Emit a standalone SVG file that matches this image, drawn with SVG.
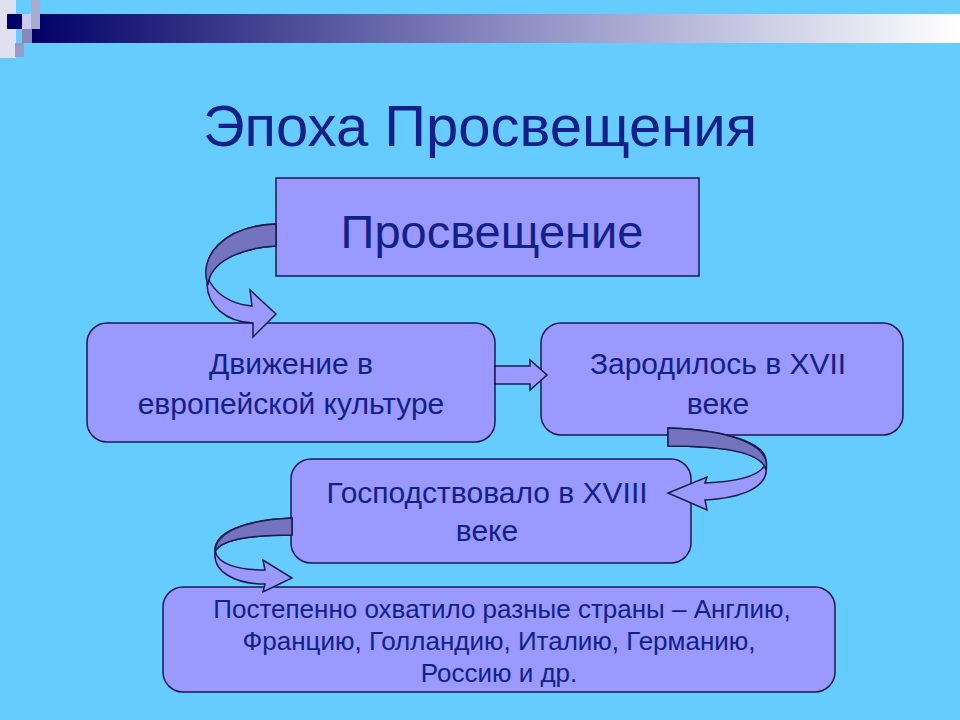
<svg xmlns="http://www.w3.org/2000/svg" width="960" height="720" viewBox="0 0 960 720">
<defs>
<linearGradient id="bar" x1="0" x2="1" y1="0" y2="0"><stop offset="0" stop-color="#000066"/><stop offset="0.5" stop-color="#8888c0"/><stop offset="1" stop-color="#ffffff"/></linearGradient>
<style>
.box{fill:#9999ff;stroke:#1a1a4d;stroke-width:1.5}
.t{font-family:"Liberation Sans",Arial,sans-serif;fill:#14208a;text-anchor:middle}
.rl{fill:#9999ff;stroke:#1a1a4d;stroke-width:1.5}
.rd{fill:#7373c0;stroke:#1a1a4d;stroke-width:1.5}
</style>
</defs>
<rect width="960" height="720" fill="#66ccff"/>
<g id="banner">
<rect x="30" y="14" width="930" height="29" fill="url(#bar)"/>
<rect x="0" y="0" width="16" height="58" fill="#e0e0f0"/>
<rect x="7" y="14" width="17" height="15" fill="#000066"/>
<rect x="22" y="14" width="10" height="15" fill="#ccccee"/>
<rect x="31" y="0" width="9" height="29" fill="#aaaacc"/>
<rect x="22" y="29" width="10" height="14" fill="#8888bb"/>
<rect x="15" y="43" width="9" height="14" fill="#9999cc"/>
</g>
<text class="t" x="480" y="146" font-size="58">Эпоха Просвещения</text>
<g id="n0"><rect class="box" x="276" y="178" width="423" height="98"/><text class="t" x="492" y="248" font-size="47">Просвещение</text></g>
<g id="n1"><rect class="box" x="87" y="323" width="408" height="119" rx="20"/><text class="t" x="291" y="374" font-size="30">Движение в</text><text class="t" x="291" y="414" font-size="30">европейской культуре</text></g>
<g id="n2"><rect class="box" x="541" y="323" width="362" height="112" rx="20"/><text class="t" x="718" y="374" font-size="30">Зародилось в XVII</text><text class="t" x="718" y="414" font-size="30">веке</text></g>
<g id="n3"><rect class="box" x="291" y="459" width="400" height="104" rx="20"/><text class="t" x="487" y="503" font-size="30">Господствовало в XVIII</text><text class="t" x="487" y="541" font-size="30">веке</text></g>
<g id="n4"><rect class="box" x="163" y="587" width="672" height="105" rx="20"/><text class="t" x="502" y="618" font-size="26">Постепенно охватило разные страны – Англию,</text><text class="t" x="499" y="650" font-size="26">Францию, Голландию, Италию, Германию,</text><text class="t" x="499" y="682" font-size="26">Россию и др.</text></g>
<g id="connectors">
<path class="rl" d="M276,224 C222,226 198,258 210,282 C220,300 240,305 252,306 L250,290 L276,314 L253,337 L253,323 C225,322 208,305 207,285 C208,262 240,248 276,246 Z"/>
<path class="rd" d="M276,224 C222,226 198,258 208,285 C210,262 240,248 276,246 Z"/>
<path class="rl" d="M495,366 L530,366 L530,360 L547,375 L530,390 L530,384 L495,384 Z"/>
<path class="rl" d="M668,428 C730,430 772,445 765,465 C758,478 730,482 705,483 L707,477 L668,493 L707,510 L705,500 C740,498 770,488 766,465 C762,452 720,446 668,446 Z"/>
<path class="rd" d="M668,428 C730,430 772,445 766,470 C762,452 720,446 668,446 Z"/>
<path class="rl" d="M292,518 C245,520 215,532 215,550 C217,565 240,570 265,570 L263,560 L292,578 L263,592 L265,584 C235,584 213,572 215,552 C220,540 250,535 292,535 Z"/>
<path class="rd" d="M292,518 C245,520 215,532 215,552 C220,540 250,535 292,535 Z"/>
</g>
</svg>
